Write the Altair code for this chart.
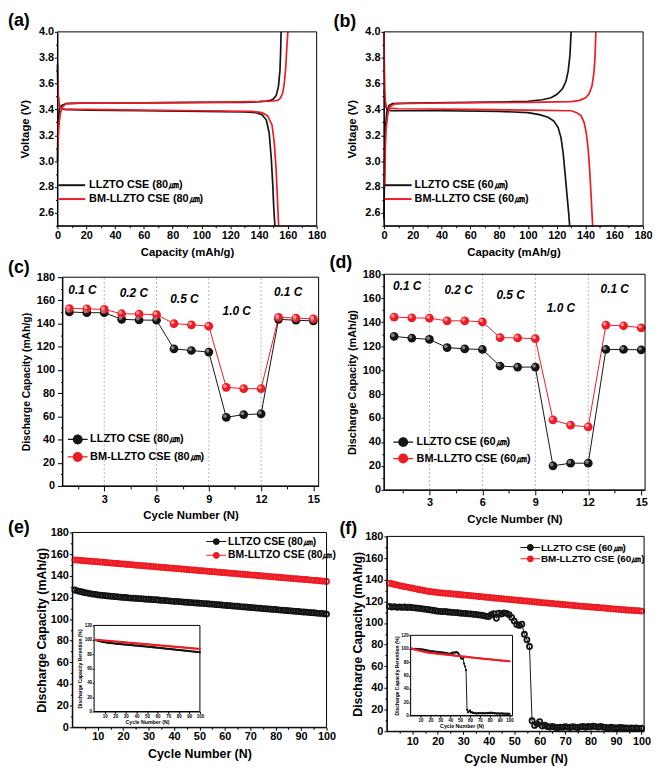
import altair as alt
import pandas as pd

FONT = "Liberation Sans"
BLACK = "#141414"
RED = "#ed1c24"
W, H = 645, 757

# ---------------- names ----------------
N80 = ["LLZTO CSE (80㎛)", "BM-LLZTO CSE (80㎛)"]
N60 = ["LLZTO CSE (60㎛)", "BM-LLZTO CSE (60㎛)"]
NE = ["LLTZO CSE (80㎛)", "BM-LLTZO CSE (80㎛)"]

# ---------------- (a) voltage profiles 80 um ----------------
a_llzto_chg_cap = [0.0, 0.3, 0.8, 1.5, 3.0, 6.0, 20, 60, 100, 130, 140, 145, 148, 150, 152, 153.5, 154.5, 155.0, 155.3]
a_llzto_chg_v = [3.00, 3.20, 3.34, 3.41, 3.43, 3.445, 3.45, 3.45, 3.455, 3.455, 3.46, 3.465, 3.47, 3.48, 3.51, 3.58, 3.70, 3.85, 4.00]
a_llzto_dis_cap = [0.0, 0.3, 1.0, 2.0, 5.0, 20, 60, 100, 130, 138, 142, 145, 147, 148.5, 149.5, 150.3, 151.0]
a_llzto_dis_v = [3.75, 3.55, 3.45, 3.41, 3.40, 3.395, 3.39, 3.385, 3.38, 3.375, 3.36, 3.32, 3.22, 3.02, 2.82, 2.62, 2.50]
a_bm_chg_cap = [0.3, 0.6, 1.2, 2.0, 3.5, 6.0, 20, 60, 100, 140, 150, 153, 155, 156.5, 157.5, 158.5, 159.3, 160.0]
a_bm_chg_v = [3.08, 3.20, 3.30, 3.37, 3.42, 3.445, 3.45, 3.45, 3.455, 3.46, 3.465, 3.47, 3.49, 3.53, 3.60, 3.72, 3.88, 4.00]
a_bm_dis_cap = [0.2, 0.5, 1.0, 2.0, 4.0, 20, 60, 100, 135, 142, 146, 149, 150.5, 151.8, 152.8, 153.6]
a_bm_dis_v = [3.65, 3.50, 3.43, 3.41, 3.40, 3.40, 3.395, 3.39, 3.385, 3.375, 3.35, 3.28, 3.15, 2.95, 2.70, 2.50]

# ---------------- (b) voltage profiles 60 um ----------------
b_llzto_chg_cap = [0.0, 0.5, 1.0, 2.0, 3.5, 6.0, 20, 60, 90, 100, 110, 116, 120, 124, 126.5, 128.0, 129.2, 130.0]
b_llzto_chg_v = [2.55, 3.00, 3.25, 3.38, 3.43, 3.445, 3.45, 3.455, 3.46, 3.463, 3.475, 3.49, 3.515, 3.56, 3.62, 3.70, 3.82, 4.00]
b_llzto_dis_cap = [0.2, 0.8, 2.0, 5.0, 40, 80, 100, 108, 114, 118, 121, 123, 124.5, 126, 127.3, 128.3, 129.0]
b_llzto_dis_v = [3.55, 3.45, 3.40, 3.39, 3.39, 3.385, 3.375, 3.36, 3.34, 3.31, 3.26, 3.18, 3.06, 2.88, 2.72, 2.60, 2.50]
b_bm_chg_cap = [0.5, 1.0, 1.5, 2.5, 4.0, 8.0, 40, 100, 130, 136, 140, 142.5, 144.5, 145.8, 146.6, 147.2]
b_bm_chg_v = [2.80, 3.10, 3.25, 3.35, 3.42, 3.445, 3.45, 3.455, 3.46, 3.47, 3.49, 3.52, 3.58, 3.68, 3.80, 4.00]
b_bm_dis_cap = [0.1, 0.3, 0.7, 1.5, 3.0, 10, 60, 100, 130, 134, 137, 139, 140.5, 141.8, 142.8, 143.8, 144.6, 145.0]
b_bm_dis_v = [4.00, 3.75, 3.50, 3.42, 3.41, 3.405, 3.40, 3.395, 3.39, 3.375, 3.35, 3.30, 3.22, 3.10, 2.95, 2.75, 2.58, 2.50]

# ---------------- (c)/(d) rate capability ----------------
rate_cycles = [1, 2, 3, 4, 5, 6, 7, 8, 9, 10, 11, 12, 13, 14, 15]
c_llzto = [150.0, 149.4, 149.4, 143.7, 143.1, 142.9, 118.2, 116.8, 115.4, 59.2, 61.5, 62.1, 143.7, 142.9, 142.3]
c_bm = [153.0, 152.8, 152.2, 148.5, 148.2, 147.7, 140.0, 138.9, 137.8, 85.0, 83.9, 83.9, 145.4, 144.8, 144.0]
d_llzto = [128.1, 126.7, 125.6, 118.8, 117.7, 117.2, 103.4, 102.5, 102.5, 20.1, 22.3, 22.3, 117.2, 117.2, 116.9]
d_bm = [144.2, 143.6, 143.3, 141.1, 141.1, 140.3, 127.1, 126.8, 126.2, 58.4, 54.0, 52.6, 137.5, 137.0, 135.3]
rate_bounds = [3, 6, 9, 12]
rate_text = ["0.1 C", "0.2 C", "0.5 C", "1.0 C", "0.1 C"]
c_rate_x = [1.75, 4.7, 7.6, 10.6, 13.55]
c_rate_y = [169, 166, 161.6, 151, 167]
d_rate_x = [1.74, 4.65, 7.6, 10.45, 13.5]
d_rate_y = [169.8, 166.5, 162.6, 151.6, 167.6]

# ---------------- (e)/(f) cycling ----------------
cycles = list(range(1, 101))
e_llzto = [126.8, 126.1, 125.5, 125.0, 124.4, 124.0, 123.5, 123.1, 122.8, 122.4,
           122.1, 121.9, 121.6, 121.4, 121.1, 120.9, 120.7, 120.5, 120.2, 120.0,
           119.9, 119.6, 119.4, 119.3, 119.1, 118.9, 118.8, 118.6, 118.4, 118.3,
           118.1, 117.9, 117.8, 117.6, 117.3, 117.2, 117.0, 116.8, 116.6, 116.4,
           116.3, 116.1, 115.9, 115.7, 115.5, 115.4, 115.2, 115.0, 114.8, 114.6,
           114.5, 114.3, 114.1, 113.9, 113.8, 113.5, 113.3, 113.2, 112.9, 112.7,
           112.5, 112.4, 112.1, 111.9, 111.8, 111.5, 111.3, 111.2, 110.9, 110.7,
           110.6, 110.3, 110.1, 110.0, 109.7, 109.5, 109.4, 109.1, 108.9, 108.8,
           108.5, 108.3, 108.2, 107.9, 107.7, 107.6, 107.3, 107.1, 107.0, 106.7,
           106.5, 106.4, 106.1, 105.9, 105.8, 105.5, 105.3, 105.2, 104.9, 104.6]
e_bm = [154.6, 154.5, 154.2, 154.1, 153.8, 153.7, 153.4, 153.3, 153.0, 152.9,
        152.6, 152.5, 152.2, 152.1, 151.8, 151.7, 151.4, 151.3, 151.0, 150.9,
        150.6, 150.5, 150.2, 150.1, 149.8, 149.7, 149.4, 149.3, 149.0, 148.9,
        148.6, 148.5, 148.2, 148.1, 147.8, 147.7, 147.4, 147.3, 147.0, 146.9,
        146.6, 146.5, 146.2, 146.1, 145.8, 145.6, 145.4, 145.3, 145.0, 144.8,
        144.6, 144.5, 144.2, 144.0, 143.8, 143.7, 143.4, 143.2, 143.0, 142.9,
        142.6, 142.4, 142.2, 142.1, 141.8, 141.6, 141.4, 141.3, 141.0, 140.8,
        140.6, 140.5, 140.2, 140.0, 139.8, 139.7, 139.4, 139.2, 139.0, 138.9,
        138.6, 138.4, 138.2, 138.1, 137.8, 137.6, 137.4, 137.3, 137.0, 136.8,
        136.6, 136.5, 136.2, 136.0, 135.8, 135.7, 135.4, 135.2, 135.0, 134.8]
f_llzto = [115.3, 114.7, 115.1, 114.5, 114.9, 114.4, 114.8, 114.3, 114.6, 114.2,
           114.0, 113.7, 113.5, 113.1, 112.8, 112.5, 112.1, 111.8, 111.3, 110.9,
           110.8, 110.5, 110.7, 110.2, 110.0, 109.8, 109.6, 109.5, 109.1, 108.9,
           108.8, 108.5, 108.4, 108.0, 107.9, 107.5, 107.3, 106.8, 106.2, 105.9,
           107.6, 108.7, 104.3, 109.1, 108.3, 109.4, 108.9, 107.6, 105.2, 101.8,
           98.6, 97.8, 98.9, 89.6, 84.5, 78.3, 9.7, 5.4, 6.9, 8.8,
           4.9, 5.7, 4.4, 3.9, 4.6, 3.7, 3.3, 3.9, 3.6, 4.2,
           3.8, 3.5, 4.3, 3.8, 3.4, 4.1, 4.4, 3.7, 4.5, 4.0,
           4.7, 4.3, 3.9, 4.6, 3.8, 3.5, 3.2, 3.7, 3.4, 3.1,
           3.3, 3.6, 3.0, 3.2, 2.9, 3.1, 2.8, 3.0, 2.7, 2.9]
f_bm = [136.8, 136.3, 135.6, 135.2, 134.6, 134.1, 133.6, 133.2, 132.7, 132.2,
        131.8, 131.2, 130.8, 130.3, 129.9, 129.4, 129.1, 128.7, 128.5, 128.1,
        127.9, 127.7, 127.4, 127.3, 127.0, 126.8, 126.6, 126.3, 126.1, 125.9,
        125.8, 125.5, 125.3, 125.0, 124.9, 124.5, 124.4, 124.1, 123.9, 123.6,
        123.5, 123.1, 122.9, 122.8, 122.5, 122.2, 122.1, 121.8, 121.6, 121.3,
        121.2, 120.9, 120.7, 120.4, 120.3, 120.0, 119.8, 119.5, 119.4, 119.0,
        118.9, 118.6, 118.5, 118.2, 118.1, 117.7, 117.6, 117.3, 117.2, 116.9,
        116.8, 116.5, 116.4, 116.0, 115.9, 115.6, 115.5, 115.2, 115.1, 114.8,
        114.7, 114.4, 114.3, 114.0, 113.9, 113.6, 113.5, 113.2, 113.1, 112.8,
        112.7, 112.4, 112.3, 112.0, 111.9, 111.7, 111.6, 111.4, 111.3, 111.0]


# ---------------- helpers ----------------
def curves(spec):
    rows = []
    for series, branch, caps, vs in spec:
        for i, (c, v) in enumerate(zip(caps, vs)):
            rows.append({"series": series, "curve": series + branch, "cap": c, "v": v, "i": i})
    return pd.DataFrame(rows)


def long_df(xs, lists, names):
    rows = []
    for name, vals in zip(names, lists):
        for x, v in zip(xs, vals):
            rows.append({"cycle": x, "cap": v, "series": name})
    return pd.DataFrame(rows)


def retention(df):
    out = df.copy()
    first = out.groupby("series")["cap"].transform("first")
    out["ret"] = out["cap"] / first * 100
    return out


def sc(domain, rng):
    return alt.Scale(domain=domain, range=rng, nice=False, zero=False)


def axis(orient, offset, values, test, title, lsize=11, tsize=11, tick=4, minor=2,
         lpad=2, tpad=5, fmt=None, tfont=FONT):
    kw = dict(orient=orient, offset=offset, values=values, title=title,
              labelExpr="(" + test + ") ? datum.label : ''",
              tickSize=tick,
              tickDash={"condition": {"test": test, "value": [20, 0]}, "value": [minor, 30]},
              labelFont=FONT, labelFontSize=lsize, labelFontWeight="bold", labelColor="black",
              titleFont=tfont, titleFontSize=tsize, titleFontWeight="bold", titleColor="black",
              domainColor="black", domainWidth=1, tickColor="black", tickWidth=1,
              labelPadding=lpad, titlePadding=tpad, labelOverlap=False, labelFlush=False,
              grid=False)
    if fmt:
        kw["format"] = fmt
    return alt.Axis(**kw)


def leg(x, y, path, size, lsize, loff, rpad, sw=0):
    return alt.Legend(orient="none", legendX=x, legendY=y, title=None, symbolType=path,
                      symbolSize=size, symbolStrokeWidth=sw, labelFont=FONT, labelFontSize=lsize,
                      labelFontWeight="bold", labelColor="black", labelOffset=loff,
                      rowPadding=rpad, padding=0, labelLimit=0, symbolOpacity=1)


def col(names, legend):
    return alt.Color("series:N", scale=alt.Scale(domain=names, range=[BLACK, RED]), legend=legend)


def shine(names):
    return alt.Fill("series:N", scale=alt.Scale(domain=names, range=["#8c8c8c", "#ffa0a0"]), legend=None)


def frame(xd, yd, xs, ys, xa, ya, white=False):
    return alt.Chart(pd.DataFrame({"k": [0]})).mark_rect(
        stroke="black", strokeWidth=1, fill="white", fillOpacity=1 if white else 0
    ).encode(x=alt.XDatum(xd[0], scale=xs, axis=xa), x2=alt.X2Datum(xd[1]),
             y=alt.YDatum(yd[0], scale=ys, axis=ya), y2=alt.Y2Datum(yd[1]))


LINE_SYM = "M-2.7,0L2.7,0"
BALL_SYM = "M-2,-0.12L2,-0.12L2,0.12L-2,0.12Z M1,0A1,1,0,1,1,-1,0A1,1,0,1,1,1,0Z"
SMALL_SYM = "M-2,-0.1L2,-0.1L2,0.1L-2,0.1Z M0.7,0A0.7,0.7,0,1,1,-0.7,0A0.7,0.7,0,1,1,0.7,0Z"

AB_X = [0, 10, 20, 30, 40, 50, 60, 70, 80, 90, 100, 110, 120, 130, 140, 150, 160, 170, 180]
AB_Y = [2.5, 2.6, 2.7, 2.8, 2.9, 3.0, 3.1, 3.2, 3.3, 3.4, 3.5, 3.6, 3.7, 3.8, 3.9, 4.0]
CD_X = [1.5, 3, 4.5, 6, 7.5, 9, 10.5, 12, 13.5, 15]
CAP_Y = [0, 10, 20, 30, 40, 50, 60, 70, 80, 90, 100, 110, 120, 130, 140, 150, 160, 170, 180]
EF_X = [5, 10, 15, 20, 25, 30, 35, 40, 45, 50, 55, 60, 65, 70, 75, 80, 85, 90, 95, 100]
IN_X = [10, 20, 30, 40, 50, 60, 70, 80, 90, 100]
IN_Y = [0, 20, 40, 60, 80, 100, 120]


def voltage_panel(df, names, x0, x1, legx, loff, ytpad):
    xs = sc([0, 180], [x0, x1])
    ys = sc([2.5, 4.0], [216, 20])
    xa = axis("bottom", 216 - H, AB_X, "datum.value % 20 == 0", "Capacity (mAh/g)",
              tick=3, minor=2, lpad=0.5, tpad=7, tsize=11.5)
    ya = axis("left", -x0, AB_Y, "abs(round(datum.value * 10)) % 2 == 0", "Voltage (V)",
              tick=3, minor=2, lpad=1, tpad=ytpad, fmt=".1f", tsize=11.5)
    lines = alt.Chart(df).mark_line(strokeWidth=1.7).encode(
        x=alt.X("cap:Q", scale=xs, axis=xa),
        y=alt.Y("v:Q", scale=ys, axis=ya),
        color=col(names, leg(legx, 169, LINE_SYM, 100, 11, loff, 3, sw=2)),
        detail="curve:N",
        order="i:Q",
    )
    return alt.layer(lines, frame([0, 180], [2.5, 4.0], xs, ys, xa, ya))


df_a = curves([(N80[0], "c", a_llzto_chg_cap, a_llzto_chg_v), (N80[0], "d", a_llzto_dis_cap, a_llzto_dis_v),
               (N80[1], "c", a_bm_chg_cap, a_bm_chg_v), (N80[1], "d", a_bm_dis_cap, a_bm_dis_v)])
df_b = curves([(N60[0], "c", b_llzto_chg_cap, b_llzto_chg_v), (N60[0], "d", b_llzto_dis_cap, b_llzto_dis_v),
               (N60[1], "c", b_bm_chg_cap, b_bm_chg_v), (N60[1], "d", b_bm_dis_cap, b_bm_dis_v)])
panel_a = voltage_panel(df_a, N80, 50, 312, 58.5, 11.5, 8)
panel_b = voltage_panel(df_b, N60, 380, 642, 388.5, 10.5, 7)


def rate_panel(df, names, xdom, x0, x1, ybot, ytop, leg_spec, rx, ry, ytsize, ytick, ylpad, ytpad, xlpad, xtpad):
    xs = sc(xdom, [x0, x1])
    ys = sc([0, 180], [ybot, ytop])
    xa = axis("bottom", ybot - H, CD_X, "datum.value % 3 == 0", "Cycle Number (N)",
              tick=5, minor=3, lpad=xlpad, tpad=xtpad, tsize=11.5)
    ya = axis("left", -x0, CAP_Y, "datum.value % 20 == 0", "Discharge Capacity (mAh/g)",
              tick=ytick, minor=2, lpad=ylpad, tpad=ytpad, tsize=ytsize)
    enc = dict(x=alt.X("cycle:Q", scale=xs, axis=xa), y=alt.Y("cap:Q", scale=ys, axis=ya))
    legend_layer = alt.Chart(df).mark_point(filled=True, opacity=1).encode(
        color=col(names, leg_spec), **enc).transform_filter("false")
    rules = alt.Chart(pd.DataFrame({"cycle": rate_bounds})).mark_rule(
        color="#a8a8a8", strokeDash=[2, 2], strokeWidth=0.9).encode(
        x=alt.X("cycle:Q", scale=xs, axis=xa), y=alt.YDatum(0, scale=ys, axis=ya), y2=alt.Y2Datum(180))
    line = alt.Chart(df).mark_line(strokeWidth=1).encode(color=col(names, None), **enc)
    pts = alt.Chart(df).mark_point(filled=True, size=78, opacity=1, strokeWidth=0).encode(
        color=col(names, None), **enc)
    hi = alt.Chart(df).mark_point(filled=True, size=14, opacity=0.9, strokeWidth=0,
                                  xOffset=-1.3, yOffset=-1.3).encode(fill=shine(names), **enc)
    txt = alt.Chart(pd.DataFrame({"cycle": rx, "cap": ry, "t": rate_text})).mark_text(
        font=FONT, fontSize=12, fontWeight="bold", fontStyle="italic", color="black").encode(
        text="t:N", **enc)
    return alt.layer(legend_layer, rules, line, pts, hi, txt, frame(xdom, [0, 180], xs, ys, xa, ya))


df_c = long_df(rate_cycles, [c_llzto, c_bm], N80)
df_d = long_df(rate_cycles, [d_llzto, d_bm], N60)
panel_c = rate_panel(df_c, N80, [0.6, 15.3], 55, 314, 479, 268,
                     leg(65, 426.5, BALL_SYM, 100, 11, 7, 5.7), c_rate_x, c_rate_y, 10.5, 5, 3, 4.5, 2.5, 5)
panel_d = rate_panel(df_d, N60, [0.42, 15.22], 380, 644, 483, 265,
                     leg(394, 429.2, BALL_SYM, 100, 11, 8, 4.6), d_rate_x, d_rate_y, 11, 3, 0.5, 4.4, 1.5, 6)


def cycle_panel(df, names, xdom, x0, x1, ybot, ytop, leg_spec, ylpad, ytpad, xlpad, xtpad):
    xs = sc(xdom, [x0, x1])
    ys = sc([0, 180], [ybot, ytop])
    xa = axis("bottom", ybot - H, EF_X, "datum.value % 10 == 0", "Cycle Number (N)",
              tick=3, minor=2, lpad=xlpad, tpad=xtpad, tsize=12.5)
    ya = axis("left", -x0, CAP_Y, "datum.value % 20 == 0", "Discharge Capacity (mAh/g)",
              tick=3, minor=2, lpad=ylpad, tpad=ytpad, tsize=12.5)
    enc = dict(x=alt.X("cycle:Q", scale=xs, axis=xa), y=alt.Y("cap:Q", scale=ys, axis=ya))
    legend_layer = alt.Chart(df).mark_point(filled=True, opacity=1).encode(
        color=col(names, leg_spec), **enc).transform_filter("false")
    line = alt.Chart(df).mark_line(strokeWidth=1).encode(color=col(names, None), **enc)
    pts = alt.Chart(df).mark_point(filled=False, size=26, opacity=1, strokeWidth=1.8).encode(
        color=col(names, None), **enc)
    return alt.layer(legend_layer, line, pts, frame(xdom, [0, 180], xs, ys, xa, ya))


def inset(df, names, xdom, x0, x1, ybot, ytop):
    xs = sc(xdom, [x0, x1])
    ys = sc([0, 120], [ybot, ytop])
    xa = axis("bottom", ybot - H, IN_X, "true", "Cycle Number (N)", lsize=4.5, tsize=5.3,
              tick=2, minor=2, lpad=0.5, tpad=1)
    ya = axis("left", -x0, IN_Y, "true", "Discharge Capacity Retention (%)", lsize=4.5, tsize=5,
              tick=2, minor=2, lpad=0.5, tpad=1.5)
    enc = dict(x=alt.X("cycle:Q", scale=xs, axis=xa), y=alt.Y("ret:Q", scale=ys, axis=ya))
    line = alt.Chart(df).mark_line(strokeWidth=1).encode(color=col(names, None), **enc)
    pts = alt.Chart(df).mark_point(filled=True, size=5, opacity=1, strokeWidth=0).encode(
        color=col(names, None), **enc)
    return alt.layer(frame(xdom, [0, 120], xs, ys, xa, ya, white=True), line, pts)


df_e = long_df(cycles, [e_llzto, e_bm], NE)
df_f = long_df(cycles, [f_llzto, f_bm], N60)
panel_e = cycle_panel(df_e, NE, [0, 100], 65, 322, 723, 526,
                      leg(205.3, 530, SMALL_SYM, 100, 10.5, 6.7, 2.9), 1, 1.5, 0.5, 6)
panel_f = cycle_panel(df_f, N60, [0, 101], 383, 643, 727, 530,
                      leg(523, 536.3, SMALL_SYM, 100, 10, 5.7, 1.4), 1, 0.5, 1.5, 6)
inset_e = inset(retention(df_e), NE, [0, 100], 87, 194, 707, 620)
inset_f = inset(retention(df_f), N60, [0, 103], 407, 510, 711, 630)


def letter(t, x, y):
    return alt.Chart(pd.DataFrame({"k": [0]})).mark_text(
        text=t, align="left", baseline="middle", font=FONT, fontSize=18, fontWeight="bold",
        color="black").encode(x=alt.value(x), y=alt.value(y))


letters = [letter("(a)", 0, 9), letter("(b)", 329, 10), letter("(c)", 0, 259),
           letter("(d)", 325, 254), letter("(e)", 0, 522), letter("(f)", 335, 523)]

chart = alt.layer(
    panel_a, panel_b, panel_c, panel_d, panel_e, inset_e, panel_f, inset_f, *letters
).resolve_scale(
    x="independent", y="independent", color="independent", fill="independent"
).resolve_axis(
    x="independent", y="independent"
).resolve_legend(
    color="independent"
).properties(
    width=W, height=H, padding=0, background="white"
).configure_view(stroke="transparent")

chart.save("out.html", embed_options={"renderer": "svg", "actions": False})
